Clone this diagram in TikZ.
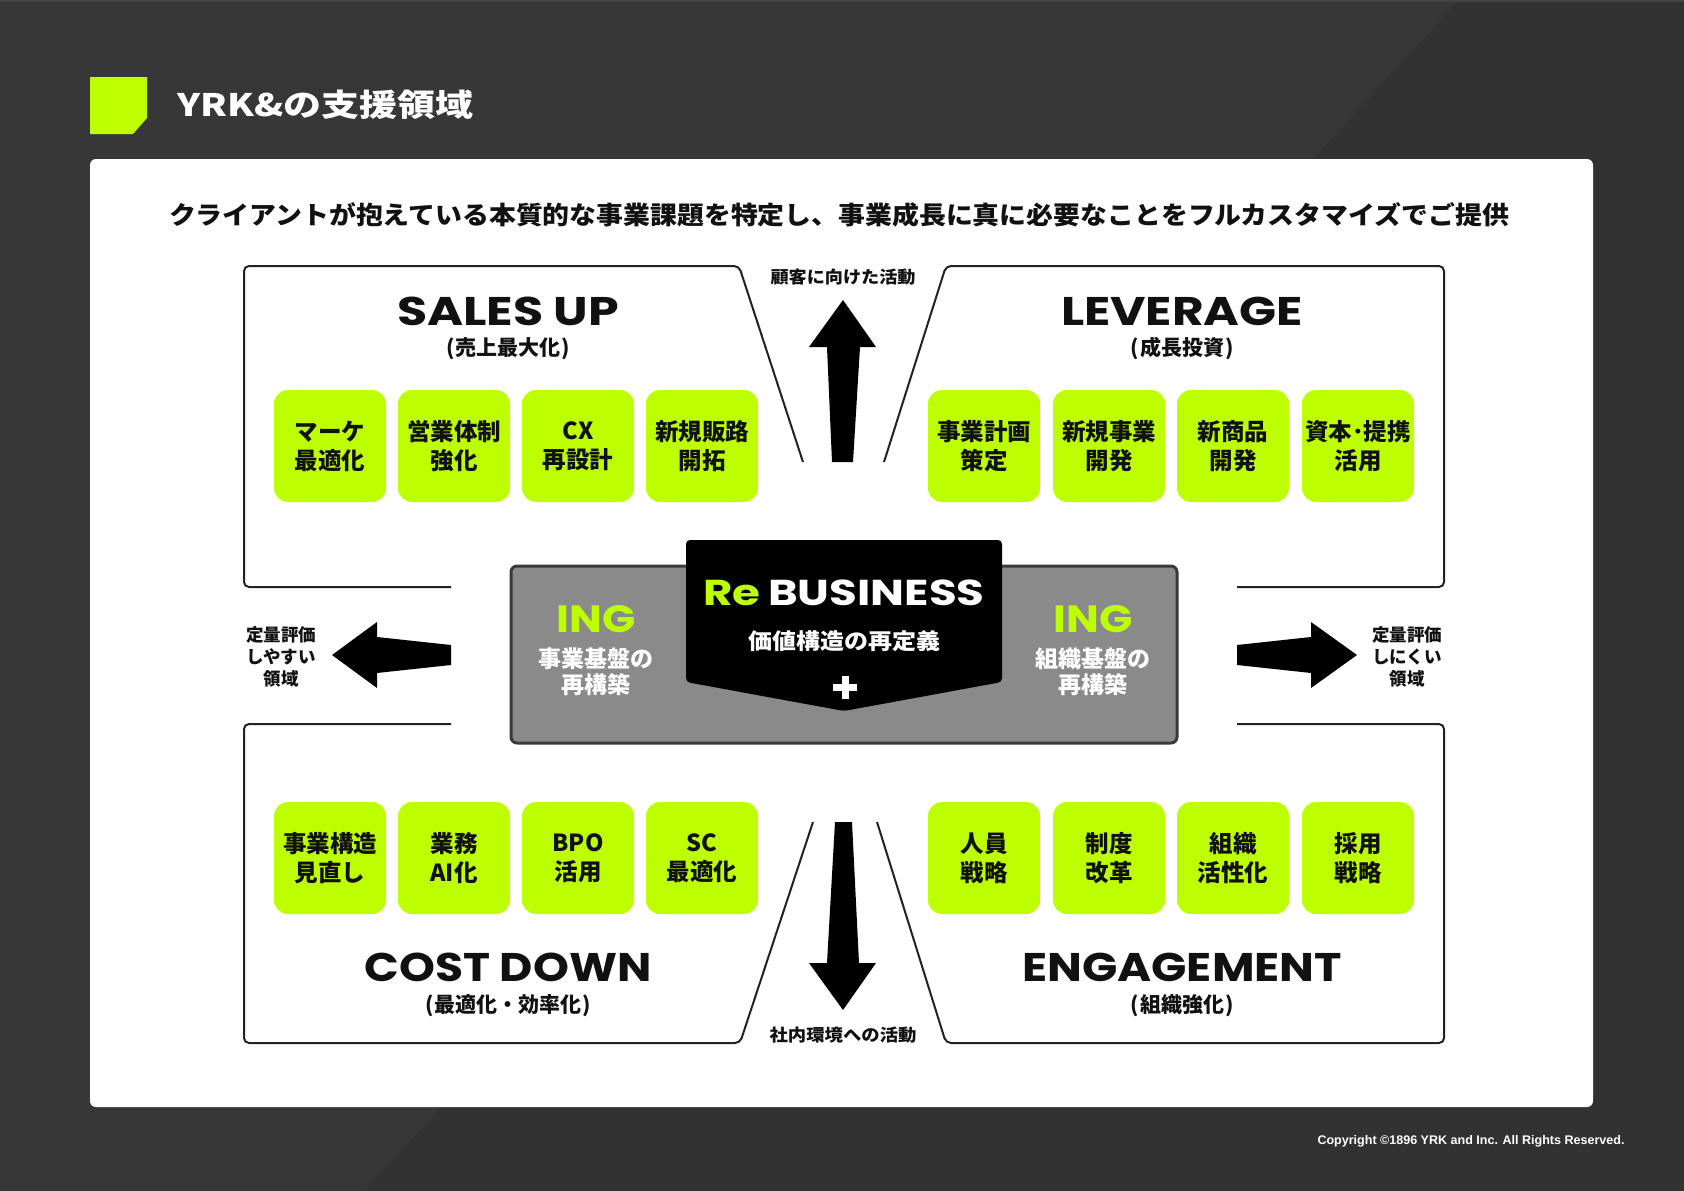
\documentclass[tikz,border=0pt]{standalone}
\usepackage{fontspec}
\usepackage{graphicx}
\setmainfont{Noto Sans CJK JP}
\newfontfamily\pop{Poppins}
\newfontfamily\lib{Liberation Sans}
\definecolor{bgc}{HTML}{323232}
\definecolor{bgl}{HTML}{373737}
\definecolor{topl}{HTML}{3E4747}
\definecolor{lime}{RGB}{190,255,0}
\definecolor{linec}{HTML}{222222}
\definecolor{txt}{HTML}{111111}
\definecolor{greyf}{HTML}{8A8A8A}
\definecolor{greyb}{HTML}{3A3A3A}
\newcommand\fsz[2]{\fontsize{#1}{#2}\selectfont}
\newcommand\fitw[2]{\resizebox{#1}{\height}{#2}}
\begin{document}
\begin{tikzpicture}[x=1pt,y=-1pt,
  quad/.style={draw=linec,line width=2,rounded corners=5},
  gbox/.style={fill=lime,rounded corners=14,minimum width=112,minimum height=112,inner sep=0,align=center,text=txt,font=\bfseries\fsz{23.5}{29}},
  heading/.style={inner sep=0,text=txt,text height=28,text depth=0,font=\pop\bfseries\fsz{40}{40}},
  subhead/.style={inner sep=0,text=txt,text height=15,text depth=3,font=\bfseries\fsz{21}{21}},
  sidelbl/.style={inner sep=0,text=txt,align=center,font=\bfseries\fsz{17.5}{22}},
  vlbl/.style={inner sep=0,text=txt,font=\bfseries\fsz{17}{17}},
  bigarrow/.style={fill=black},
  ing/.style={inner sep=0,text=lime,font=\pop\bfseries\fsz{38}{38}},
  ingsub/.style={inner sep=0,text=white,align=center,font=\bfseries\fsz{23}{26}}
]
\path[use as bounding box] (0,0) rectangle (1684,1191);
% background
\fill[bgc] (0,0) rectangle (1684,1191);
\fill[bgl] (0,0) -- (1459,0) -- (364,1191) -- (0,1191) -- cycle;
\fill[topl] (0,0) rectangle (1684,2);
% title
\fill[lime] (90,77) -- (147,77) -- (147,118) -- (133,134) -- (90,134) -- cycle;
\node[anchor=west,inner sep=0,text=white,font=\bfseries\fsz{31}{31}] (title) at (177,105) {\fitw{296pt}{YRK\&の支援領域}};
% panel
\fill[white,rounded corners=6] (90,159) rectangle (1593,1107);
\node[inner sep=0,text=txt,font=\bfseries\fsz{25}{25}] (lead) at (839,215) {\fitw{1340pt}{クライアントが抱えている本質的な事業課題を特定し、事業成長に真に必要なことをフルカスタマイズでご提供}};
% quadrant outlines
\draw[quad] (451,587) -- (244,587) -- (244,266) -- (739,266) -- (803,462);
\draw[quad] (884,462) -- (946,266) -- (1444,266) -- (1444,587) -- (1237,587);
\draw[quad] (451,724) -- (244,724) -- (244,1043) -- (740,1043) -- (813,822);
\draw[quad] (1237,724) -- (1444,724) -- (1444,1043) -- (946,1043) -- (877,822);
% headings
\node[heading] (salesup) at (508,311) {\fitw{222pt}{SALES UP}};
\node[subhead] (salesupj) at (508,349) {(\kern1pt 売上最大化\kern1pt)};
\node[heading] (leverage) at (1182,311) {\fitw{242pt}{LEVERAGE}};
\node[subhead] (leveragej) at (1182,349) {(\kern1pt 成長投資\kern1pt)};
\node[heading] (costdown) at (508,967) {\fitw{287pt}{COST DOWN}};
\node[subhead] (costdownj) at (508,1006) {(\kern1pt 最適化・効率化\kern1pt)};
\node[heading] (engage) at (1182,967) {\fitw{320pt}{ENGAGEMENT}};
\node[subhead] (engagej) at (1182,1006) {(\kern1pt 組織強化\kern1pt)};
% green boxes top
\node[gbox] (t1) at (330,446) {マーケ\\最適化};
\node[gbox] (t2) at (454,446) {営業体制\\強化};
\node[gbox] (t3) at (578,446) {CX\\再設計};
\node[gbox] (t4) at (702,446) {新規販路\\開拓};
\node[gbox] (t5) at (984,446) {事業計画\\策定};
\node[gbox] (t6) at (1109,446) {新規事業\\開発};
\node[gbox] (t7) at (1233,446) {新商品\\開発};
\node[gbox] (t8) at (1358,446) {資本･提携\\活用};
% green boxes bottom
\node[gbox] (u1) at (330,858) {事業構造\\見直し};
\node[gbox] (u2) at (454,858) {業務\\AI化};
\node[gbox] (u3) at (578,858) {BPO\\活用};
\node[gbox] (u4) at (702,858) {SC\\最適化};
\node[gbox] (u5) at (984,858) {人員\\戦略};
\node[gbox] (u6) at (1109,858) {制度\\改革};
\node[gbox] (u7) at (1233,858) {組織\\活性化};
\node[gbox] (u8) at (1358,858) {採用\\戦略};
% vertical arrows
\fill[bigarrow] (843,300) -- (876,347) -- (860,347) -- (853,462) -- (832,462) -- (827,347) -- (809,347) -- cycle;
\node[vlbl] (uplbl) at (843,277) {\fitw{145pt}{顧客に向けた活動}};
\fill[bigarrow] (835,822) -- (852,822) -- (859,963) -- (876,963) -- (843,1010) -- (809,963) -- (827,963) -- cycle;
\node[vlbl] (dnlbl) at (843,1035) {\fitw{147pt}{社内環境への活動}};
% horizontal arrows
\fill[bigarrow] (332,655) -- (377,622) -- (377,637) -- (451,645) -- (451,665) -- (377,673) -- (377,688) -- cycle;
\node[sidelbl] (leftlbl) at (281,657) {定量評価\\しやすい\\領域};
\fill[bigarrow] (1237,645) -- (1311,637) -- (1311,622) -- (1357,655) -- (1311,688) -- (1311,673) -- (1237,665) -- cycle;
\node[sidelbl] (rightlbl) at (1407,657) {定量評価\\しにくい\\領域};
% center
\node[fill=greyf,draw=greyb,line width=3,rounded corners=6,minimum width=666,minimum height=177,inner sep=0] (core) at (844,654.5) {};
\fill[black,rounded corners=4] (686,540) -- (1002,540) -- (1002,682) -- (844,711) -- (686,682) -- cycle;
\node[inner sep=0,text=white,font=\pop\bfseries\fsz{36}{36}] (rebiz) at (844,593) {\fitw{281pt}{\textcolor{lime}{Re}\,BUSINESS}};
\node[inner sep=0,text=white,font=\bfseries\fsz{22}{22}] (kachi) at (844,641) {\fitw{192pt}{価値構造の再定義}};
\fill[white] (833,684) rectangle (857,691);
\fill[white] (841.5,676) rectangle (848.5,699);
\node[ing] (ingl) at (596,619) {\fitw{79pt}{ING}};
\node[ingsub] (ingls) at (596,672) {事業基盤の\\再構築};
\node[ing] (ingr) at (1093,619) {\fitw{79pt}{ING}};
\node[ingsub] (ingrs) at (1093,672) {組織基盤の\\再構築};
% copyright
\node[inner sep=0,text=white,font=\lib\bfseries\fsz{12.5}{12.5}] (copy) at (1471,1141) {\fitw{307pt}{Copyright ©1896 YRK and Inc. All Rights Reserved.}};
\end{tikzpicture}
\end{document}
